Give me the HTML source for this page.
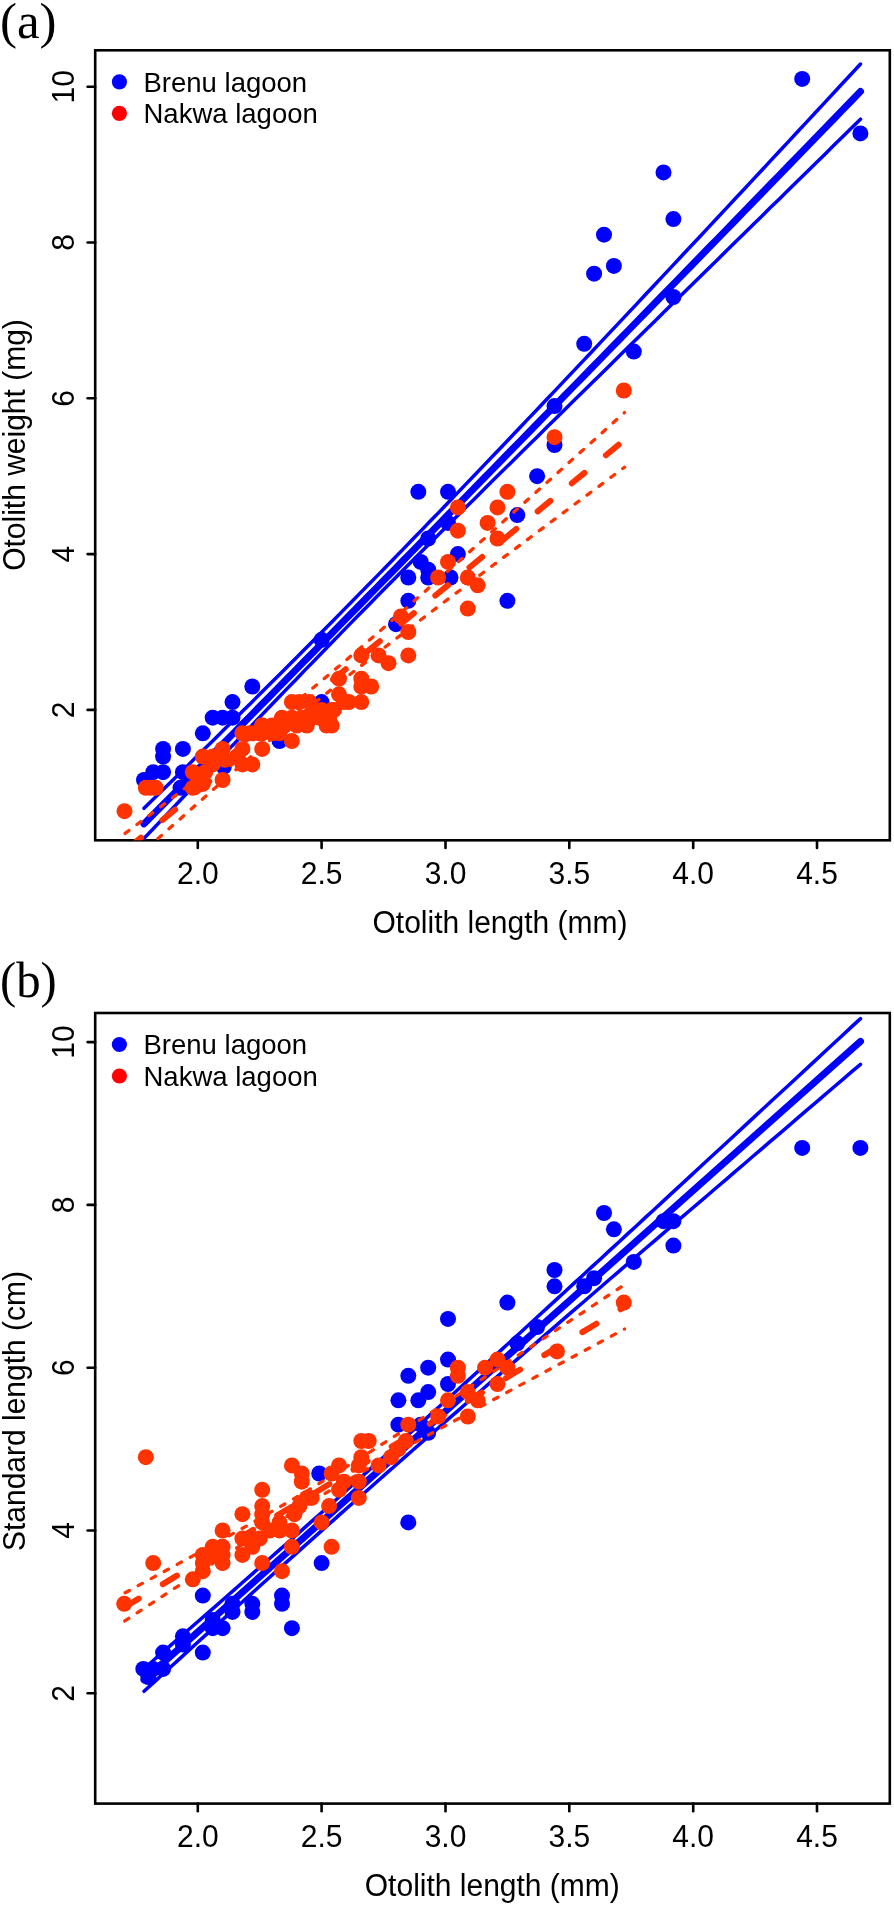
<!DOCTYPE html><html><head><meta charset="utf-8"><style>html,body{margin:0;padding:0;background:#fff;}svg{display:block;will-change:transform;}</style></head><body><svg width="894" height="1905" viewBox="0 0 894 1905">
<rect width="894" height="1905" fill="#fff"/>
<defs>
<clipPath id="ca"><rect x="95.2" y="50.3" width="794.5999999999999" height="790.0"/></clipPath>
<clipPath id="cb"><rect x="95.2" y="1013.0" width="794.5999999999999" height="790.5999999999999"/></clipPath>
</defs>
<rect x="95.2" y="50.3" width="794.5999999999999" height="790.0" fill="none" stroke="#000" stroke-width="2.6"/>
<line x1="197.8" y1="840.3" x2="197.8" y2="847.9" stroke="#000" stroke-width="2.6" stroke-linecap="round"/>
<text transform="translate(197.8,883.9) scale(1,1.075)" font-size="30" text-anchor="middle" font-family="Liberation Sans, sans-serif">2.0</text>
<line x1="321.6" y1="840.3" x2="321.6" y2="847.9" stroke="#000" stroke-width="2.6" stroke-linecap="round"/>
<text transform="translate(321.6,883.9) scale(1,1.075)" font-size="30" text-anchor="middle" font-family="Liberation Sans, sans-serif">2.5</text>
<line x1="445.5" y1="840.3" x2="445.5" y2="847.9" stroke="#000" stroke-width="2.6" stroke-linecap="round"/>
<text transform="translate(445.5,883.9) scale(1,1.075)" font-size="30" text-anchor="middle" font-family="Liberation Sans, sans-serif">3.0</text>
<line x1="569.3" y1="840.3" x2="569.3" y2="847.9" stroke="#000" stroke-width="2.6" stroke-linecap="round"/>
<text transform="translate(569.3,883.9) scale(1,1.075)" font-size="30" text-anchor="middle" font-family="Liberation Sans, sans-serif">3.5</text>
<line x1="693.2" y1="840.3" x2="693.2" y2="847.9" stroke="#000" stroke-width="2.6" stroke-linecap="round"/>
<text transform="translate(693.2,883.9) scale(1,1.075)" font-size="30" text-anchor="middle" font-family="Liberation Sans, sans-serif">4.0</text>
<line x1="817.0" y1="840.3" x2="817.0" y2="847.9" stroke="#000" stroke-width="2.6" stroke-linecap="round"/>
<text transform="translate(817.0,883.9) scale(1,1.075)" font-size="30" text-anchor="middle" font-family="Liberation Sans, sans-serif">4.5</text>
<line x1="87.60000000000001" y1="709.9" x2="95.2" y2="709.9" stroke="#000" stroke-width="2.6" stroke-linecap="round"/>
<text transform="translate(73.5,709.9) rotate(-90) scale(1,1.075)" font-size="30" text-anchor="middle" font-family="Liberation Sans, sans-serif">2</text>
<line x1="87.60000000000001" y1="554.1" x2="95.2" y2="554.1" stroke="#000" stroke-width="2.6" stroke-linecap="round"/>
<text transform="translate(73.5,554.1) rotate(-90) scale(1,1.075)" font-size="30" text-anchor="middle" font-family="Liberation Sans, sans-serif">4</text>
<line x1="87.60000000000001" y1="398.3" x2="95.2" y2="398.3" stroke="#000" stroke-width="2.6" stroke-linecap="round"/>
<text transform="translate(73.5,398.3) rotate(-90) scale(1,1.075)" font-size="30" text-anchor="middle" font-family="Liberation Sans, sans-serif">6</text>
<line x1="87.60000000000001" y1="242.5" x2="95.2" y2="242.5" stroke="#000" stroke-width="2.6" stroke-linecap="round"/>
<text transform="translate(73.5,242.5) rotate(-90) scale(1,1.075)" font-size="30" text-anchor="middle" font-family="Liberation Sans, sans-serif">8</text>
<line x1="87.60000000000001" y1="86.7" x2="95.2" y2="86.7" stroke="#000" stroke-width="2.6" stroke-linecap="round"/>
<text transform="translate(73.5,86.7) rotate(-90) scale(1,1.075)" font-size="30" text-anchor="middle" font-family="Liberation Sans, sans-serif">10</text>
<text transform="translate(500,933) scale(1,1.02)" font-size="30" text-anchor="middle" font-family="Liberation Sans, sans-serif">Otolith length (mm)</text>
<text transform="translate(24.8,445) rotate(-90) scale(1,1.02)" font-size="30" text-anchor="middle" font-family="Liberation Sans, sans-serif">Otolith weight (mg)</text>
<text transform="translate(0,38) scale(1.0,1)" font-size="51" font-family="Liberation Serif, serif">(a)</text>
<circle cx="119.4" cy="81.8" r="7.6" fill="#0000ff"/>
<circle cx="119.4" cy="113.3" r="7.6" fill="#ff0000"/>
<text x="143.5" y="91.6" font-size="27.5" font-family="Liberation Sans, sans-serif">Brenu lagoon</text>
<text x="143.5" y="123.1" font-size="27.5" font-family="Liberation Sans, sans-serif">Nakwa lagoon</text>
<g clip-path="url(#ca)">
<circle cx="802.2" cy="78.9" r="8.0" fill="#0000ff"/>
<circle cx="860.4" cy="133.4" r="8.0" fill="#0000ff"/>
<circle cx="663.5" cy="172.4" r="8.0" fill="#0000ff"/>
<circle cx="673.4" cy="219.1" r="8.0" fill="#0000ff"/>
<circle cx="604.0" cy="234.7" r="8.0" fill="#0000ff"/>
<circle cx="613.9" cy="265.9" r="8.0" fill="#0000ff"/>
<circle cx="594.1" cy="273.7" r="8.0" fill="#0000ff"/>
<circle cx="673.4" cy="297.0" r="8.0" fill="#0000ff"/>
<circle cx="584.2" cy="343.8" r="8.0" fill="#0000ff"/>
<circle cx="633.8" cy="351.6" r="8.0" fill="#0000ff"/>
<circle cx="554.5" cy="406.1" r="8.0" fill="#0000ff"/>
<circle cx="554.5" cy="445.0" r="8.0" fill="#0000ff"/>
<circle cx="537.1" cy="476.2" r="8.0" fill="#0000ff"/>
<circle cx="448.0" cy="491.8" r="8.0" fill="#0000ff"/>
<circle cx="418.3" cy="491.8" r="8.0" fill="#0000ff"/>
<circle cx="517.3" cy="515.1" r="8.0" fill="#0000ff"/>
<circle cx="448.0" cy="522.9" r="8.0" fill="#0000ff"/>
<circle cx="428.2" cy="538.5" r="8.0" fill="#0000ff"/>
<circle cx="457.9" cy="554.1" r="8.0" fill="#0000ff"/>
<circle cx="420.7" cy="561.9" r="8.0" fill="#0000ff"/>
<circle cx="428.2" cy="569.7" r="8.0" fill="#0000ff"/>
<circle cx="428.2" cy="577.5" r="8.0" fill="#0000ff"/>
<circle cx="408.3" cy="577.5" r="8.0" fill="#0000ff"/>
<circle cx="450.5" cy="577.5" r="8.0" fill="#0000ff"/>
<circle cx="408.3" cy="600.8" r="8.0" fill="#0000ff"/>
<circle cx="507.4" cy="600.8" r="8.0" fill="#0000ff"/>
<circle cx="396.0" cy="624.2" r="8.0" fill="#0000ff"/>
<circle cx="321.6" cy="639.8" r="8.0" fill="#0000ff"/>
<circle cx="252.3" cy="686.5" r="8.0" fill="#0000ff"/>
<circle cx="232.5" cy="702.1" r="8.0" fill="#0000ff"/>
<circle cx="321.6" cy="702.1" r="8.0" fill="#0000ff"/>
<circle cx="212.7" cy="717.7" r="8.0" fill="#0000ff"/>
<circle cx="222.6" cy="717.7" r="8.0" fill="#0000ff"/>
<circle cx="232.5" cy="717.7" r="8.0" fill="#0000ff"/>
<circle cx="202.8" cy="733.3" r="8.0" fill="#0000ff"/>
<circle cx="163.1" cy="748.9" r="8.0" fill="#0000ff"/>
<circle cx="182.9" cy="748.9" r="8.0" fill="#0000ff"/>
<circle cx="163.1" cy="756.6" r="8.0" fill="#0000ff"/>
<circle cx="279.5" cy="741.1" r="8.0" fill="#0000ff"/>
<circle cx="153.2" cy="772.2" r="8.0" fill="#0000ff"/>
<circle cx="163.1" cy="772.2" r="8.0" fill="#0000ff"/>
<circle cx="182.9" cy="772.2" r="8.0" fill="#0000ff"/>
<circle cx="144.0" cy="780.0" r="8.0" fill="#0000ff"/>
<circle cx="180.5" cy="787.8" r="8.0" fill="#0000ff"/>
<circle cx="223.8" cy="766.8" r="8.0" fill="#0000ff"/>
<polyline points="144.0,823.9 153.0,814.8 161.9,805.7 170.9,796.7 179.8,787.6 188.8,778.5 197.7,769.4 206.7,760.4 215.7,751.3 224.6,742.2 233.6,733.1 242.5,724.0 251.5,714.9 260.4,705.8 269.4,696.7 278.3,687.6 287.3,678.5 296.3,669.4 305.2,660.3 314.2,651.2 323.1,642.1 332.1,633.0 341.0,623.9 350.0,614.8 358.9,605.7 367.9,596.5 376.9,587.4 385.8,578.3 394.8,569.2 403.7,560.0 412.7,550.9 421.6,541.8 430.6,532.6 439.6,523.5 448.5,514.3 457.5,505.2 466.4,496.1 475.4,486.9 484.3,477.8 493.3,468.6 502.2,459.5 511.2,450.3 520.2,441.1 529.1,432.0 538.1,422.8 547.0,413.6 556.0,404.5 564.9,395.3 573.9,386.1 582.9,377.0 591.8,367.8 600.8,358.6 609.7,349.4 618.7,340.2 627.6,331.1 636.6,321.9 645.5,312.7 654.5,303.5 663.5,294.3 672.4,285.1 681.4,275.9 690.3,266.7 699.3,257.5 708.2,248.3 717.2,239.1 726.2,229.9 735.1,220.7 744.1,211.4 753.0,202.2 762.0,193.0 770.9,183.8 779.9,174.6 788.9,165.3 797.8,156.1 806.8,146.9 815.7,137.6 824.7,128.4 833.6,119.2 842.6,109.9 851.5,100.7 860.5,91.4" fill="none" stroke="#0000ff" stroke-width="7.0" stroke-linecap="round" stroke-linejoin="round"/>
<polyline points="144.0,808.3 153.0,799.5 161.9,790.8 170.9,782.0 179.8,773.2 188.8,764.4 197.7,755.6 206.7,746.8 215.7,737.9 224.6,729.1 233.6,720.2 242.5,711.3 251.5,702.4 260.4,693.5 269.4,684.6 278.3,675.7 287.3,666.7 296.3,657.8 305.2,648.8 314.2,639.7 323.1,630.7 332.1,621.7 341.0,612.6 350.0,603.5 358.9,594.4 367.9,585.3 376.9,576.1 385.8,567.0 394.8,557.8 403.7,548.6 412.7,539.3 421.6,530.1 430.6,520.8 439.6,511.6 448.5,502.3 457.5,492.9 466.4,483.6 475.4,474.3 484.3,464.9 493.3,455.5 502.2,446.2 511.2,436.8 520.2,427.3 529.1,417.9 538.1,408.5 547.0,399.0 556.0,389.6 564.9,380.1 573.9,370.6 582.9,361.1 591.8,351.7 600.8,342.1 609.7,332.6 618.7,323.1 627.6,313.6 636.6,304.1 645.5,294.5 654.5,285.0 663.5,275.4 672.4,265.9 681.4,256.3 690.3,246.7 699.3,237.2 708.2,227.6 717.2,218.0 726.2,208.4 735.1,198.8 744.1,189.2 753.0,179.6 762.0,170.0 770.9,160.4 779.9,150.8 788.9,141.1 797.8,131.5 806.8,121.9 815.7,112.3 824.7,102.6 833.6,93.0 842.6,83.3 851.5,73.7 860.5,64.0" fill="none" stroke="#0000ff" stroke-width="3.5" stroke-linecap="round" stroke-linejoin="round"/>
<polyline points="144.0,838.4 153.0,829.0 161.9,819.6 170.9,810.1 179.8,800.7 188.8,791.3 197.7,781.9 206.7,772.5 215.7,763.1 224.6,753.8 233.6,744.4 242.5,735.0 251.5,725.7 260.4,716.4 269.4,707.0 278.3,697.7 287.3,688.4 296.3,679.2 305.2,669.9 314.2,660.7 323.1,651.5 332.1,642.3 341.0,633.1 350.0,623.9 358.9,614.8 367.9,605.7 376.9,596.6 385.8,587.5 394.8,578.5 403.7,569.5 412.7,560.4 421.6,551.5 430.6,542.5 439.6,533.5 448.5,524.6 457.5,515.7 466.4,506.8 475.4,497.9 484.3,489.0 493.3,480.1 502.2,471.2 511.2,462.4 520.2,453.5 529.1,444.7 538.1,435.9 547.0,427.0 556.0,418.2 564.9,409.4 573.9,400.6 582.9,391.8 591.8,383.0 600.8,374.2 609.7,365.4 618.7,356.6 627.6,347.8 636.6,339.0 645.5,330.2 654.5,321.4 663.5,312.6 672.4,303.8 681.4,295.0 690.3,286.2 699.3,277.5 708.2,268.7 717.2,259.9 726.2,251.1 735.1,242.3 744.1,233.5 753.0,224.7 762.0,215.9 770.9,207.1 779.9,198.4 788.9,189.6 797.8,180.8 806.8,172.0 815.7,163.2 824.7,154.4 833.6,145.6 842.6,136.8 851.5,128.0 860.5,119.2" fill="none" stroke="#0000ff" stroke-width="3.5" stroke-linecap="round" stroke-linejoin="round"/>
<circle cx="124.5" cy="811.2" r="8.0" fill="#ff3300"/>
<circle cx="150.7" cy="787.8" r="8.0" fill="#ff3300"/>
<circle cx="212.7" cy="764.4" r="8.0" fill="#ff3300"/>
<circle cx="200.3" cy="780.0" r="8.0" fill="#ff3300"/>
<circle cx="225.0" cy="759.8" r="8.0" fill="#ff3300"/>
<circle cx="237.4" cy="756.6" r="8.0" fill="#ff3300"/>
<circle cx="212.7" cy="756.6" r="8.0" fill="#ff3300"/>
<circle cx="145.8" cy="787.8" r="8.0" fill="#ff3300"/>
<circle cx="155.7" cy="787.8" r="8.0" fill="#ff3300"/>
<circle cx="623.8" cy="390.5" r="8.0" fill="#ff3300"/>
<circle cx="554.5" cy="437.2" r="8.0" fill="#ff3300"/>
<circle cx="507.4" cy="491.8" r="8.0" fill="#ff3300"/>
<circle cx="457.9" cy="507.4" r="8.0" fill="#ff3300"/>
<circle cx="497.5" cy="507.4" r="8.0" fill="#ff3300"/>
<circle cx="487.6" cy="522.9" r="8.0" fill="#ff3300"/>
<circle cx="497.5" cy="538.5" r="8.0" fill="#ff3300"/>
<circle cx="457.9" cy="530.7" r="8.0" fill="#ff3300"/>
<circle cx="448.0" cy="561.9" r="8.0" fill="#ff3300"/>
<circle cx="438.1" cy="577.5" r="8.0" fill="#ff3300"/>
<circle cx="467.8" cy="577.5" r="8.0" fill="#ff3300"/>
<circle cx="477.7" cy="585.3" r="8.0" fill="#ff3300"/>
<circle cx="467.8" cy="608.6" r="8.0" fill="#ff3300"/>
<circle cx="400.9" cy="616.4" r="8.0" fill="#ff3300"/>
<circle cx="408.3" cy="632.0" r="8.0" fill="#ff3300"/>
<circle cx="408.3" cy="655.4" r="8.0" fill="#ff3300"/>
<circle cx="361.3" cy="655.4" r="8.0" fill="#ff3300"/>
<circle cx="378.6" cy="655.4" r="8.0" fill="#ff3300"/>
<circle cx="388.5" cy="663.2" r="8.0" fill="#ff3300"/>
<circle cx="339.0" cy="678.7" r="8.0" fill="#ff3300"/>
<circle cx="361.3" cy="678.7" r="8.0" fill="#ff3300"/>
<circle cx="371.2" cy="686.5" r="8.0" fill="#ff3300"/>
<circle cx="361.3" cy="686.5" r="8.0" fill="#ff3300"/>
<circle cx="339.0" cy="694.3" r="8.0" fill="#ff3300"/>
<circle cx="348.9" cy="702.1" r="8.0" fill="#ff3300"/>
<circle cx="361.3" cy="702.1" r="8.0" fill="#ff3300"/>
<circle cx="334.0" cy="709.9" r="8.0" fill="#ff3300"/>
<circle cx="222.6" cy="748.9" r="8.0" fill="#ff3300"/>
<circle cx="202.8" cy="756.6" r="8.0" fill="#ff3300"/>
<circle cx="192.8" cy="772.2" r="8.0" fill="#ff3300"/>
<circle cx="222.6" cy="780.0" r="8.0" fill="#ff3300"/>
<circle cx="192.8" cy="787.8" r="8.0" fill="#ff3300"/>
<circle cx="205.2" cy="772.2" r="8.0" fill="#ff3300"/>
<circle cx="202.8" cy="783.9" r="8.0" fill="#ff3300"/>
<circle cx="242.4" cy="733.3" r="8.0" fill="#ff3300"/>
<circle cx="259.7" cy="733.3" r="8.0" fill="#ff3300"/>
<circle cx="262.2" cy="725.5" r="8.0" fill="#ff3300"/>
<circle cx="262.2" cy="748.9" r="8.0" fill="#ff3300"/>
<circle cx="242.4" cy="748.9" r="8.0" fill="#ff3300"/>
<circle cx="242.4" cy="764.4" r="8.0" fill="#ff3300"/>
<circle cx="252.3" cy="764.4" r="8.0" fill="#ff3300"/>
<circle cx="249.8" cy="733.3" r="8.0" fill="#ff3300"/>
<circle cx="291.9" cy="741.1" r="8.0" fill="#ff3300"/>
<circle cx="291.9" cy="702.1" r="8.0" fill="#ff3300"/>
<circle cx="299.4" cy="702.1" r="8.0" fill="#ff3300"/>
<circle cx="309.3" cy="702.1" r="8.0" fill="#ff3300"/>
<circle cx="282.0" cy="717.7" r="8.0" fill="#ff3300"/>
<circle cx="291.9" cy="717.7" r="8.0" fill="#ff3300"/>
<circle cx="301.8" cy="717.7" r="8.0" fill="#ff3300"/>
<circle cx="311.7" cy="717.7" r="8.0" fill="#ff3300"/>
<circle cx="319.2" cy="717.7" r="8.0" fill="#ff3300"/>
<circle cx="262.2" cy="725.5" r="8.0" fill="#ff3300"/>
<circle cx="272.1" cy="725.5" r="8.0" fill="#ff3300"/>
<circle cx="284.5" cy="725.5" r="8.0" fill="#ff3300"/>
<circle cx="296.9" cy="725.5" r="8.0" fill="#ff3300"/>
<circle cx="306.8" cy="725.5" r="8.0" fill="#ff3300"/>
<circle cx="252.3" cy="733.3" r="8.0" fill="#ff3300"/>
<circle cx="262.2" cy="733.3" r="8.0" fill="#ff3300"/>
<circle cx="272.1" cy="733.3" r="8.0" fill="#ff3300"/>
<circle cx="279.5" cy="733.3" r="8.0" fill="#ff3300"/>
<circle cx="326.6" cy="725.5" r="8.0" fill="#ff3300"/>
<circle cx="331.6" cy="725.5" r="8.0" fill="#ff3300"/>
<circle cx="331.6" cy="709.9" r="8.0" fill="#ff3300"/>
<circle cx="329.1" cy="717.7" r="8.0" fill="#ff3300"/>
<circle cx="343.9" cy="702.1" r="8.0" fill="#ff3300"/>
<circle cx="321.6" cy="709.9" r="8.0" fill="#ff3300"/>
<circle cx="314.2" cy="709.9" r="8.0" fill="#ff3300"/>
<polyline points="123.5,852.0 624.5,439.9" fill="none" stroke="#ff3300" stroke-width="6.0" stroke-linecap="round" stroke-linejoin="round" stroke-dasharray="16.4 27.770000000000003" stroke-dashoffset="-6.24"/>
<polyline points="123.5,834.6 129.8,829.9 136.0,825.2 142.3,820.5 148.6,815.8 154.8,811.1 161.1,806.4 167.3,801.6 173.6,796.9 179.9,792.2 186.1,787.4 192.4,782.7 198.7,777.9 204.9,773.1 211.2,768.4 217.4,763.6 223.7,758.8 230.0,753.9 236.2,749.1 242.5,744.2 248.8,739.4 255.0,734.5 261.3,729.6 267.5,724.6 273.8,719.7 280.1,714.7 286.3,709.6 292.6,704.6 298.9,699.5 305.1,694.4 311.4,689.3 317.6,684.1 323.9,678.9 330.2,673.6 336.4,668.3 342.7,663.0 348.9,657.7 355.2,652.3 361.5,647.0 367.7,641.6 374.0,636.1 380.3,630.7 386.5,625.2 392.8,619.8 399.1,614.3 405.3,608.8 411.6,603.2 417.8,597.7 424.1,592.2 430.4,586.6 436.6,581.1 442.9,575.5 449.1,569.9 455.4,564.4 461.7,558.8 467.9,553.2 474.2,547.6 480.5,542.0 486.7,536.4 493.0,530.8 499.2,525.2 505.5,519.6 511.8,514.0 518.0,508.3 524.3,502.7 530.6,497.1 536.8,491.5 543.1,485.8 549.4,480.2 555.6,474.6 561.9,469.0 568.1,463.3 574.4,457.7 580.7,452.0 586.9,446.4 593.2,440.8 599.5,435.1 605.7,429.5 612.0,423.8 618.2,418.2 624.5,412.6" fill="none" stroke="#ff3300" stroke-width="3.3" stroke-linecap="round" stroke-linejoin="round" stroke-dasharray="4.8 10.041" stroke-dashoffset="-1.9899999999999998"/>
<polyline points="123.5,869.3 129.8,863.7 136.0,858.1 142.3,852.5 148.6,846.9 154.8,841.4 161.1,835.8 167.3,830.2 173.6,824.6 179.9,819.1 186.1,813.5 192.4,808.0 198.7,802.4 204.9,796.9 211.2,791.4 217.4,785.9 223.7,780.4 230.0,774.9 236.2,769.4 242.5,764.0 248.8,758.5 255.0,753.1 261.3,747.7 267.5,742.4 273.8,737.0 280.1,731.7 286.3,726.4 292.6,721.2 298.9,716.0 305.1,710.8 311.4,705.6 317.6,700.5 323.9,695.4 330.2,690.4 336.4,685.3 342.7,680.3 348.9,675.4 355.2,670.4 361.5,665.5 367.7,660.6 374.0,655.7 380.3,650.9 386.5,646.0 392.8,641.2 399.1,636.4 405.3,631.6 411.6,626.8 417.8,622.0 424.1,617.3 430.4,612.5 436.6,607.8 442.9,603.0 449.1,598.3 455.4,593.6 461.7,588.9 467.9,584.1 474.2,579.4 480.5,574.7 486.7,570.0 493.0,565.3 499.2,560.6 505.5,555.9 511.8,551.3 518.0,546.6 524.3,541.9 530.6,537.2 536.8,532.5 543.1,527.9 549.4,523.2 555.6,518.5 561.9,513.8 568.1,509.2 574.4,504.5 580.7,499.8 586.9,495.2 593.2,490.5 599.5,485.9 605.7,481.2 612.0,476.5 618.2,471.9 624.5,467.2" fill="none" stroke="#ff3300" stroke-width="3.3" stroke-linecap="round" stroke-linejoin="round" stroke-dasharray="4.8 10.064" stroke-dashoffset="-1.48"/>
</g>
<rect x="95.2" y="1013.0" width="794.5999999999999" height="790.5999999999999" fill="none" stroke="#000" stroke-width="2.6"/>
<line x1="197.8" y1="1803.6" x2="197.8" y2="1811.1999999999998" stroke="#000" stroke-width="2.6" stroke-linecap="round"/>
<text transform="translate(197.8,1847.1999999999998) scale(1,1.075)" font-size="30" text-anchor="middle" font-family="Liberation Sans, sans-serif">2.0</text>
<line x1="321.6" y1="1803.6" x2="321.6" y2="1811.1999999999998" stroke="#000" stroke-width="2.6" stroke-linecap="round"/>
<text transform="translate(321.6,1847.1999999999998) scale(1,1.075)" font-size="30" text-anchor="middle" font-family="Liberation Sans, sans-serif">2.5</text>
<line x1="445.5" y1="1803.6" x2="445.5" y2="1811.1999999999998" stroke="#000" stroke-width="2.6" stroke-linecap="round"/>
<text transform="translate(445.5,1847.1999999999998) scale(1,1.075)" font-size="30" text-anchor="middle" font-family="Liberation Sans, sans-serif">3.0</text>
<line x1="569.3" y1="1803.6" x2="569.3" y2="1811.1999999999998" stroke="#000" stroke-width="2.6" stroke-linecap="round"/>
<text transform="translate(569.3,1847.1999999999998) scale(1,1.075)" font-size="30" text-anchor="middle" font-family="Liberation Sans, sans-serif">3.5</text>
<line x1="693.2" y1="1803.6" x2="693.2" y2="1811.1999999999998" stroke="#000" stroke-width="2.6" stroke-linecap="round"/>
<text transform="translate(693.2,1847.1999999999998) scale(1,1.075)" font-size="30" text-anchor="middle" font-family="Liberation Sans, sans-serif">4.0</text>
<line x1="817.0" y1="1803.6" x2="817.0" y2="1811.1999999999998" stroke="#000" stroke-width="2.6" stroke-linecap="round"/>
<text transform="translate(817.0,1847.1999999999998) scale(1,1.075)" font-size="30" text-anchor="middle" font-family="Liberation Sans, sans-serif">4.5</text>
<line x1="87.60000000000001" y1="1693.3" x2="95.2" y2="1693.3" stroke="#000" stroke-width="2.6" stroke-linecap="round"/>
<text transform="translate(73.5,1693.3) rotate(-90) scale(1,1.075)" font-size="30" text-anchor="middle" font-family="Liberation Sans, sans-serif">2</text>
<line x1="87.60000000000001" y1="1530.5" x2="95.2" y2="1530.5" stroke="#000" stroke-width="2.6" stroke-linecap="round"/>
<text transform="translate(73.5,1530.5) rotate(-90) scale(1,1.075)" font-size="30" text-anchor="middle" font-family="Liberation Sans, sans-serif">4</text>
<line x1="87.60000000000001" y1="1367.7" x2="95.2" y2="1367.7" stroke="#000" stroke-width="2.6" stroke-linecap="round"/>
<text transform="translate(73.5,1367.7) rotate(-90) scale(1,1.075)" font-size="30" text-anchor="middle" font-family="Liberation Sans, sans-serif">6</text>
<line x1="87.60000000000001" y1="1204.9" x2="95.2" y2="1204.9" stroke="#000" stroke-width="2.6" stroke-linecap="round"/>
<text transform="translate(73.5,1204.9) rotate(-90) scale(1,1.075)" font-size="30" text-anchor="middle" font-family="Liberation Sans, sans-serif">8</text>
<line x1="87.60000000000001" y1="1042.1" x2="95.2" y2="1042.1" stroke="#000" stroke-width="2.6" stroke-linecap="round"/>
<text transform="translate(73.5,1042.1) rotate(-90) scale(1,1.075)" font-size="30" text-anchor="middle" font-family="Liberation Sans, sans-serif">10</text>
<text transform="translate(492.3,1895.5) scale(1,1.02)" font-size="30" text-anchor="middle" font-family="Liberation Sans, sans-serif">Otolith length (mm)</text>
<text transform="translate(24.8,1411) rotate(-90) scale(1,1.02)" font-size="30" text-anchor="middle" font-family="Liberation Sans, sans-serif">Standard length (cm)</text>
<text transform="translate(0,997) scale(0.955,1)" font-size="51" font-family="Liberation Serif, serif">(b)</text>
<circle cx="119.4" cy="1044.5" r="7.6" fill="#0000ff"/>
<circle cx="119.4" cy="1076.0" r="7.6" fill="#ff0000"/>
<text x="143.5" y="1054.3" font-size="27.5" font-family="Liberation Sans, sans-serif">Brenu lagoon</text>
<text x="143.5" y="1085.8" font-size="27.5" font-family="Liberation Sans, sans-serif">Nakwa lagoon</text>
<g clip-path="url(#cb)">
<circle cx="802.2" cy="1147.9" r="8.0" fill="#0000ff"/>
<circle cx="860.4" cy="1147.9" r="8.0" fill="#0000ff"/>
<circle cx="604.0" cy="1213.0" r="8.0" fill="#0000ff"/>
<circle cx="613.9" cy="1229.3" r="8.0" fill="#0000ff"/>
<circle cx="663.5" cy="1221.2" r="8.0" fill="#0000ff"/>
<circle cx="673.4" cy="1221.2" r="8.0" fill="#0000ff"/>
<circle cx="673.4" cy="1245.6" r="8.0" fill="#0000ff"/>
<circle cx="633.8" cy="1261.9" r="8.0" fill="#0000ff"/>
<circle cx="554.5" cy="1270.0" r="8.0" fill="#0000ff"/>
<circle cx="554.5" cy="1286.3" r="8.0" fill="#0000ff"/>
<circle cx="584.2" cy="1286.3" r="8.0" fill="#0000ff"/>
<circle cx="594.1" cy="1278.2" r="8.0" fill="#0000ff"/>
<circle cx="507.4" cy="1302.6" r="8.0" fill="#0000ff"/>
<circle cx="448.0" cy="1318.9" r="8.0" fill="#0000ff"/>
<circle cx="537.1" cy="1327.0" r="8.0" fill="#0000ff"/>
<circle cx="517.3" cy="1343.3" r="8.0" fill="#0000ff"/>
<circle cx="448.0" cy="1359.6" r="8.0" fill="#0000ff"/>
<circle cx="428.2" cy="1367.7" r="8.0" fill="#0000ff"/>
<circle cx="448.0" cy="1384.0" r="8.0" fill="#0000ff"/>
<circle cx="428.2" cy="1392.1" r="8.0" fill="#0000ff"/>
<circle cx="408.3" cy="1375.8" r="8.0" fill="#0000ff"/>
<circle cx="418.3" cy="1400.3" r="8.0" fill="#0000ff"/>
<circle cx="398.4" cy="1400.3" r="8.0" fill="#0000ff"/>
<circle cx="398.4" cy="1424.7" r="8.0" fill="#0000ff"/>
<circle cx="428.2" cy="1432.8" r="8.0" fill="#0000ff"/>
<circle cx="420.7" cy="1424.7" r="8.0" fill="#0000ff"/>
<circle cx="319.2" cy="1473.5" r="8.0" fill="#0000ff"/>
<circle cx="321.6" cy="1563.1" r="8.0" fill="#0000ff"/>
<circle cx="408.3" cy="1522.4" r="8.0" fill="#0000ff"/>
<circle cx="202.8" cy="1595.6" r="8.0" fill="#0000ff"/>
<circle cx="202.8" cy="1652.6" r="8.0" fill="#0000ff"/>
<circle cx="182.9" cy="1636.3" r="8.0" fill="#0000ff"/>
<circle cx="182.9" cy="1644.5" r="8.0" fill="#0000ff"/>
<circle cx="163.1" cy="1652.6" r="8.0" fill="#0000ff"/>
<circle cx="143.3" cy="1668.9" r="8.0" fill="#0000ff"/>
<circle cx="163.1" cy="1668.9" r="8.0" fill="#0000ff"/>
<circle cx="153.2" cy="1668.9" r="8.0" fill="#0000ff"/>
<circle cx="148.3" cy="1677.0" r="8.0" fill="#0000ff"/>
<circle cx="212.7" cy="1620.0" r="8.0" fill="#0000ff"/>
<circle cx="212.7" cy="1628.2" r="8.0" fill="#0000ff"/>
<circle cx="222.6" cy="1628.2" r="8.0" fill="#0000ff"/>
<circle cx="232.5" cy="1603.8" r="8.0" fill="#0000ff"/>
<circle cx="232.5" cy="1611.9" r="8.0" fill="#0000ff"/>
<circle cx="252.3" cy="1603.8" r="8.0" fill="#0000ff"/>
<circle cx="252.3" cy="1611.9" r="8.0" fill="#0000ff"/>
<circle cx="282.0" cy="1595.6" r="8.0" fill="#0000ff"/>
<circle cx="282.0" cy="1603.8" r="8.0" fill="#0000ff"/>
<circle cx="291.9" cy="1628.2" r="8.0" fill="#0000ff"/>
<polyline points="144.0,1679.9 860.5,1041.4" fill="none" stroke="#0000ff" stroke-width="7.0" stroke-linecap="round" stroke-linejoin="round"/>
<polyline points="144.0,1668.5 153.0,1660.7 161.9,1652.9 170.9,1645.1 179.8,1637.3 188.8,1629.5 197.7,1621.7 206.7,1613.9 215.7,1606.1 224.6,1598.2 233.6,1590.4 242.5,1582.5 251.5,1574.6 260.4,1566.7 269.4,1558.8 278.3,1550.9 287.3,1543.0 296.3,1535.1 305.2,1527.1 314.2,1519.1 323.1,1511.2 332.1,1503.2 341.0,1495.2 350.0,1487.1 358.9,1479.1 367.9,1471.1 376.9,1463.0 385.8,1455.0 394.8,1446.9 403.7,1438.8 412.7,1430.7 421.6,1422.6 430.6,1414.4 439.6,1406.3 448.5,1398.2 457.5,1390.0 466.4,1381.9 475.4,1373.7 484.3,1365.5 493.3,1357.3 502.2,1349.1 511.2,1340.9 520.2,1332.7 529.1,1324.5 538.1,1316.3 547.0,1308.1 556.0,1299.9 564.9,1291.7 573.9,1283.4 582.9,1275.2 591.8,1266.9 600.8,1258.7 609.7,1250.4 618.7,1242.2 627.6,1233.9 636.6,1225.7 645.5,1217.4 654.5,1209.2 663.5,1200.9 672.4,1192.6 681.4,1184.4 690.3,1176.1 699.3,1167.8 708.2,1159.5 717.2,1151.2 726.2,1143.0 735.1,1134.7 744.1,1126.4 753.0,1118.1 762.0,1109.8 770.9,1101.5 779.9,1093.3 788.9,1085.0 797.8,1076.7 806.8,1068.4 815.7,1060.1 824.7,1051.8 833.6,1043.5 842.6,1035.2 851.5,1026.9 860.5,1018.6" fill="none" stroke="#0000ff" stroke-width="3.5" stroke-linecap="round" stroke-linejoin="round"/>
<polyline points="144.0,1691.3 153.0,1683.1 161.9,1674.9 170.9,1666.7 179.8,1658.6 188.8,1650.4 197.7,1642.3 206.7,1634.1 215.7,1626.0 224.6,1617.9 233.6,1609.8 242.5,1601.7 251.5,1593.6 260.4,1585.5 269.4,1577.5 278.3,1569.4 287.3,1561.4 296.3,1553.4 305.2,1545.4 314.2,1537.4 323.1,1529.4 332.1,1521.4 341.0,1513.4 350.0,1505.5 358.9,1497.6 367.9,1489.7 376.9,1481.7 385.8,1473.9 394.8,1466.0 403.7,1458.1 412.7,1450.2 421.6,1442.4 430.6,1434.6 439.6,1426.7 448.5,1418.9 457.5,1411.1 466.4,1403.3 475.4,1395.5 484.3,1387.7 493.3,1379.9 502.2,1372.2 511.2,1364.4 520.2,1356.6 529.1,1348.9 538.1,1341.1 547.0,1333.4 556.0,1325.7 564.9,1317.9 573.9,1310.2 582.9,1302.5 591.8,1294.8 600.8,1287.0 609.7,1279.3 618.7,1271.6 627.6,1263.9 636.6,1256.2 645.5,1248.5 654.5,1240.8 663.5,1233.1 672.4,1225.4 681.4,1217.7 690.3,1210.0 699.3,1202.4 708.2,1194.7 717.2,1187.0 726.2,1179.3 735.1,1171.6 744.1,1164.0 753.0,1156.3 762.0,1148.6 770.9,1140.9 779.9,1133.3 788.9,1125.6 797.8,1117.9 806.8,1110.2 815.7,1102.6 824.7,1094.9 833.6,1087.2 842.6,1079.6 851.5,1071.9 860.5,1064.3" fill="none" stroke="#0000ff" stroke-width="3.5" stroke-linecap="round" stroke-linejoin="round"/>
<circle cx="124.2" cy="1603.8" r="8.0" fill="#ff3300"/>
<circle cx="145.8" cy="1457.2" r="8.0" fill="#ff3300"/>
<circle cx="153.2" cy="1563.1" r="8.0" fill="#ff3300"/>
<circle cx="623.8" cy="1302.6" r="8.0" fill="#ff3300"/>
<circle cx="557.0" cy="1351.4" r="8.0" fill="#ff3300"/>
<circle cx="457.9" cy="1367.7" r="8.0" fill="#ff3300"/>
<circle cx="457.9" cy="1375.8" r="8.0" fill="#ff3300"/>
<circle cx="497.5" cy="1359.6" r="8.0" fill="#ff3300"/>
<circle cx="485.1" cy="1367.7" r="8.0" fill="#ff3300"/>
<circle cx="507.4" cy="1367.7" r="8.0" fill="#ff3300"/>
<circle cx="497.5" cy="1384.0" r="8.0" fill="#ff3300"/>
<circle cx="467.8" cy="1392.1" r="8.0" fill="#ff3300"/>
<circle cx="477.7" cy="1400.3" r="8.0" fill="#ff3300"/>
<circle cx="448.0" cy="1400.3" r="8.0" fill="#ff3300"/>
<circle cx="438.1" cy="1416.5" r="8.0" fill="#ff3300"/>
<circle cx="467.8" cy="1416.5" r="8.0" fill="#ff3300"/>
<circle cx="408.3" cy="1424.7" r="8.0" fill="#ff3300"/>
<circle cx="361.3" cy="1441.0" r="8.0" fill="#ff3300"/>
<circle cx="368.7" cy="1441.0" r="8.0" fill="#ff3300"/>
<circle cx="361.3" cy="1457.2" r="8.0" fill="#ff3300"/>
<circle cx="358.8" cy="1465.4" r="8.0" fill="#ff3300"/>
<circle cx="378.6" cy="1465.4" r="8.0" fill="#ff3300"/>
<circle cx="391.0" cy="1457.2" r="8.0" fill="#ff3300"/>
<circle cx="398.4" cy="1449.1" r="8.0" fill="#ff3300"/>
<circle cx="405.9" cy="1441.0" r="8.0" fill="#ff3300"/>
<circle cx="339.0" cy="1465.4" r="8.0" fill="#ff3300"/>
<circle cx="331.6" cy="1473.5" r="8.0" fill="#ff3300"/>
<circle cx="343.9" cy="1481.7" r="8.0" fill="#ff3300"/>
<circle cx="358.8" cy="1481.7" r="8.0" fill="#ff3300"/>
<circle cx="339.0" cy="1489.8" r="8.0" fill="#ff3300"/>
<circle cx="358.8" cy="1497.9" r="8.0" fill="#ff3300"/>
<circle cx="329.1" cy="1506.1" r="8.0" fill="#ff3300"/>
<circle cx="311.7" cy="1497.9" r="8.0" fill="#ff3300"/>
<circle cx="306.8" cy="1497.9" r="8.0" fill="#ff3300"/>
<circle cx="291.9" cy="1465.4" r="8.0" fill="#ff3300"/>
<circle cx="301.8" cy="1473.5" r="8.0" fill="#ff3300"/>
<circle cx="301.8" cy="1481.7" r="8.0" fill="#ff3300"/>
<circle cx="299.4" cy="1506.1" r="8.0" fill="#ff3300"/>
<circle cx="294.4" cy="1514.2" r="8.0" fill="#ff3300"/>
<circle cx="291.9" cy="1530.5" r="8.0" fill="#ff3300"/>
<circle cx="321.6" cy="1522.4" r="8.0" fill="#ff3300"/>
<circle cx="262.2" cy="1489.8" r="8.0" fill="#ff3300"/>
<circle cx="262.2" cy="1506.1" r="8.0" fill="#ff3300"/>
<circle cx="242.4" cy="1514.2" r="8.0" fill="#ff3300"/>
<circle cx="262.2" cy="1514.2" r="8.0" fill="#ff3300"/>
<circle cx="262.2" cy="1522.4" r="8.0" fill="#ff3300"/>
<circle cx="279.5" cy="1522.4" r="8.0" fill="#ff3300"/>
<circle cx="269.6" cy="1530.5" r="8.0" fill="#ff3300"/>
<circle cx="279.5" cy="1530.5" r="8.0" fill="#ff3300"/>
<circle cx="242.4" cy="1538.6" r="8.0" fill="#ff3300"/>
<circle cx="252.3" cy="1538.6" r="8.0" fill="#ff3300"/>
<circle cx="259.7" cy="1538.6" r="8.0" fill="#ff3300"/>
<circle cx="242.4" cy="1554.9" r="8.0" fill="#ff3300"/>
<circle cx="252.3" cy="1546.8" r="8.0" fill="#ff3300"/>
<circle cx="291.9" cy="1546.8" r="8.0" fill="#ff3300"/>
<circle cx="262.2" cy="1563.1" r="8.0" fill="#ff3300"/>
<circle cx="282.0" cy="1571.2" r="8.0" fill="#ff3300"/>
<circle cx="222.6" cy="1530.5" r="8.0" fill="#ff3300"/>
<circle cx="212.7" cy="1546.8" r="8.0" fill="#ff3300"/>
<circle cx="222.6" cy="1546.8" r="8.0" fill="#ff3300"/>
<circle cx="222.6" cy="1563.1" r="8.0" fill="#ff3300"/>
<circle cx="202.8" cy="1554.9" r="8.0" fill="#ff3300"/>
<circle cx="202.8" cy="1571.2" r="8.0" fill="#ff3300"/>
<circle cx="192.8" cy="1579.3" r="8.0" fill="#ff3300"/>
<circle cx="331.6" cy="1546.8" r="8.0" fill="#ff3300"/>
<circle cx="202.8" cy="1563.1" r="8.0" fill="#ff3300"/>
<circle cx="222.6" cy="1554.9" r="8.0" fill="#ff3300"/>
<circle cx="212.7" cy="1554.9" r="8.0" fill="#ff3300"/>
<polyline points="123.5,1607.7 624.5,1306.9" fill="none" stroke="#ff3300" stroke-width="6.0" stroke-linecap="round" stroke-linejoin="round" stroke-dasharray="16.4 28.090000000000003" stroke-dashoffset="-1.3600000000000012"/>
<polyline points="123.5,1593.6 129.8,1590.2 136.0,1586.8 142.3,1583.4 148.6,1580.0 154.8,1576.6 161.1,1573.2 167.3,1569.8 173.6,1566.4 179.9,1562.9 186.1,1559.5 192.4,1556.1 198.7,1552.6 204.9,1549.2 211.2,1545.7 217.4,1542.3 223.7,1538.8 230.0,1535.3 236.2,1531.8 242.5,1528.3 248.8,1524.7 255.0,1521.2 261.3,1517.6 267.5,1514.0 273.8,1510.4 280.1,1506.8 286.3,1503.1 292.6,1499.5 298.9,1495.8 305.1,1492.0 311.4,1488.3 317.6,1484.5 323.9,1480.7 330.2,1476.8 336.4,1473.0 342.7,1469.1 348.9,1465.2 355.2,1461.3 361.5,1457.3 367.7,1453.3 374.0,1449.4 380.3,1445.4 386.5,1441.3 392.8,1437.3 399.1,1433.3 405.3,1429.2 411.6,1425.2 417.8,1421.1 424.1,1417.0 430.4,1413.0 436.6,1408.9 442.9,1404.8 449.1,1400.7 455.4,1396.6 461.7,1392.4 467.9,1388.3 474.2,1384.2 480.5,1380.1 486.7,1376.0 493.0,1371.8 499.2,1367.7 505.5,1363.6 511.8,1359.4 518.0,1355.3 524.3,1351.2 530.6,1347.0 536.8,1342.9 543.1,1338.7 549.4,1334.6 555.6,1330.4 561.9,1326.3 568.1,1322.1 574.4,1318.0 580.7,1313.8 586.9,1309.7 593.2,1305.5 599.5,1301.3 605.7,1297.2 612.0,1293.0 618.2,1288.9 624.5,1284.7" fill="none" stroke="#ff3300" stroke-width="3.3" stroke-linecap="round" stroke-linejoin="round" stroke-dasharray="4.8 10.027000000000001" stroke-dashoffset="-1.85"/>
<polyline points="123.5,1621.8 129.8,1617.7 136.0,1613.6 142.3,1609.4 148.6,1605.3 154.8,1601.2 161.1,1597.1 167.3,1593.0 173.6,1588.9 179.9,1584.8 186.1,1580.7 192.4,1576.6 198.7,1572.5 204.9,1568.5 211.2,1564.4 217.4,1560.3 223.7,1556.3 230.0,1552.3 236.2,1548.3 242.5,1544.3 248.8,1540.3 255.0,1536.3 261.3,1532.3 267.5,1528.4 273.8,1524.5 280.1,1520.6 286.3,1516.7 292.6,1512.9 298.9,1509.1 305.1,1505.3 311.4,1501.5 317.6,1497.8 323.9,1494.1 330.2,1490.4 336.4,1486.7 342.7,1483.1 348.9,1479.5 355.2,1475.9 361.5,1472.3 367.7,1468.8 374.0,1465.2 380.3,1461.7 386.5,1458.2 392.8,1454.7 399.1,1451.2 405.3,1447.8 411.6,1444.3 417.8,1440.9 424.1,1437.4 430.4,1434.0 436.6,1430.5 442.9,1427.1 449.1,1423.7 455.4,1420.3 461.7,1416.9 467.9,1413.5 474.2,1410.1 480.5,1406.7 486.7,1403.3 493.0,1399.9 499.2,1396.5 505.5,1393.1 511.8,1389.7 518.0,1386.3 524.3,1383.0 530.6,1379.6 536.8,1376.2 543.1,1372.8 549.4,1369.5 555.6,1366.1 561.9,1362.7 568.1,1359.4 574.4,1356.0 580.7,1352.6 586.9,1349.3 593.2,1345.9 599.5,1342.5 605.7,1339.2 612.0,1335.8 618.2,1332.5 624.5,1329.1" fill="none" stroke="#ff3300" stroke-width="3.3" stroke-linecap="round" stroke-linejoin="round" stroke-dasharray="4.8 10.046" stroke-dashoffset="-1.5100000000000002"/>
</g>
</svg></body></html>
